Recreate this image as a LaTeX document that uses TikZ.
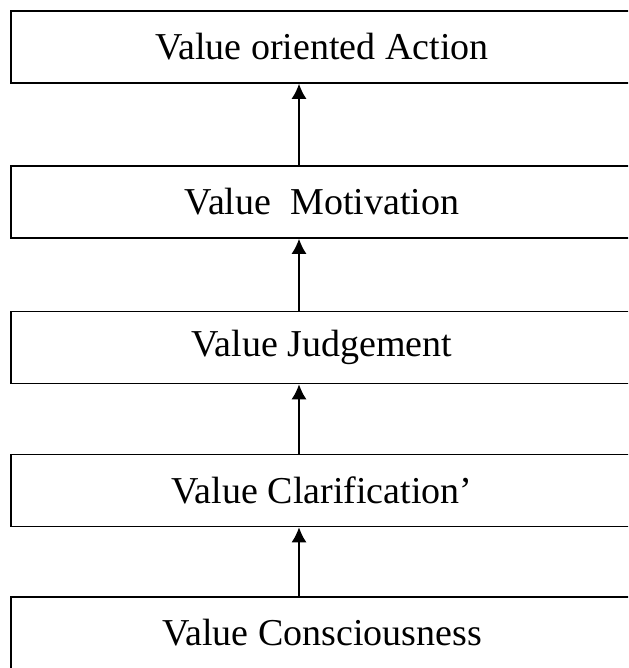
\documentclass[tikz,border=0pt]{standalone}
\usepackage{fontspec}
\setmainfont{Liberation Serif}
\usepackage{tikz}
\usetikzlibrary{arrows.meta}

\begin{document}
\begin{tikzpicture}[
							x=0.5pt, y=-0.5pt,
							stagebox/.style={rectangle, draw=black, line width=0.9pt, minimum width=311pt, minimum height=36pt, inner sep=0pt, font=\fontsize{19}{22}\selectfont},
							uparrow/.style={-{Latex[length=7.5pt,width=7.5pt]}, line width=0.6pt},
							]
							\clip (0,0) rectangle (628,668);
							%Nodes
							\node[stagebox]       (b1) 	at 	(322,47)        {Value oriented Action};
							\node[stagebox]       (b2) 	at 	(322,202)       {Value\ \ Motivation};
							\node[stagebox]       (b3) 	at 	(322,347.5)     {Value Judgement};
							\node[stagebox]       (b4) 	at 	(322,490.5)     {Value Clarification'};
							\node[stagebox]       (b5) 	at 	(322,633)       {Value Consciousness};
							\coordinate           (ax) 	at 	(299,0);
							
							%Arrows
							\draw[uparrow] (b2.north -| ax) -- (b1.south -| ax);
							\draw[uparrow] (b3.north -| ax) -- (b2.south -| ax);
							\draw[uparrow] (b4.north -| ax) -- (b3.south -| ax);
							\draw[uparrow] (b5.north -| ax) -- (b4.south -| ax);
						\end{tikzpicture}
\end{document}
